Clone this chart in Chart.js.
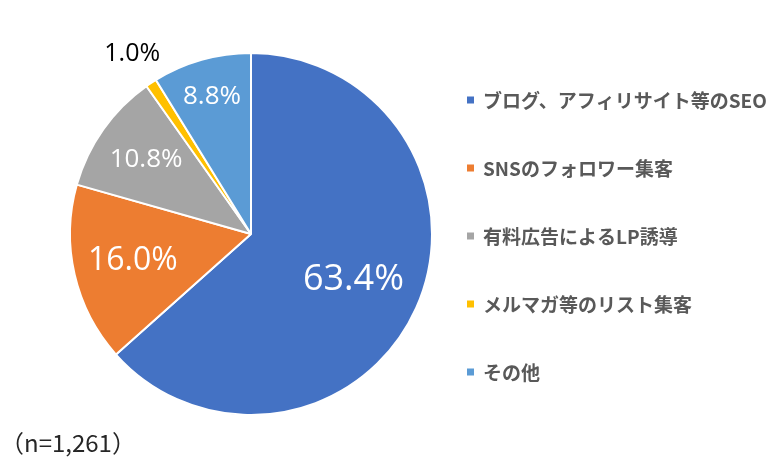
<!DOCTYPE html>
<html>
<head>
    <title>集客方法</title>
    <script src="https://cdn.jsdelivr.net/npm/chart.js"></script>
    <style>
        body { margin: 0; background: #fff; }
        #wrap { position: relative; width: 781px; height: 469px; }
    </style>
</head>
<body>
    <div id="wrap"><canvas id="myChart"></canvas></div>
    <script>
        const categories = ['ブログ、アフィリサイト等のSEO', 'SNSのフォロワー集客', '有料広告によるLP誘導', 'メルマガ等のリスト集客', 'その他'];
        const shares = [63.4, 16.0, 10.8, 1.0, 8.8];
        const colors = ['#4472C4', '#ED7D31', '#A5A5A5', '#FFC000', '#5B9BD5'];
        const sampleNote = '（n=1,261）';

        // label placement per slice (fraction of radius) and font size
        const labelRadius = [0.62, 0.67, 0.71, 1.19, 0.79];
        const labelSize = [36, 32, 26, 25, 26];

        const sliceLabels = {
            id: 'sliceLabels',
            afterDatasetsDraw(chart) {
                const ctx = chart.ctx;
                const meta = chart.getDatasetMeta(0);
                ctx.save();
                ctx.textAlign = 'center';
                ctx.textBaseline = 'middle';
                meta.data.forEach((arc, i) => {
                    const mid = (arc.startAngle + arc.endAngle) / 2;
                    const r = arc.outerRadius * labelRadius[i];
                    const x = arc.x + Math.cos(mid) * r;
                    const y = arc.y + Math.sin(mid) * r;
                    ctx.font = labelSize[i] + 'px "Open Sans", "Noto Sans", sans-serif';
                    ctx.fillStyle = labelRadius[i] > 1 ? '#000000' : '#ffffff';
                    ctx.fillText(shares[i].toFixed(1) + '%', x, y);
                });
                ctx.restore();
            }
        };

        // legend on the right, drawn by hand so the spacing matches
        const sideLegend = {
            id: 'sideLegend',
            afterDraw(chart) {
                const ctx = chart.ctx;
                ctx.save();
                ctx.textBaseline = 'middle';
                ctx.textAlign = 'left';
                ctx.font = 'bold 19px "Noto Sans CJK JP", sans-serif';
                categories.forEach((name, i) => {
                    const y = 100 + i * 68;
                    ctx.fillStyle = colors[i];
                    ctx.fillRect(467, y - 3.5, 7, 7);
                    ctx.fillStyle = '#595959';
                    ctx.fillText(name, 483, y + 1);
                });
                ctx.font = '24px "Noto Sans CJK JP", sans-serif';
                ctx.fillStyle = '#262626';
                ctx.fillText(sampleNote, 0, 443);
                ctx.restore();
            }
        };

        const ctx = document.getElementById('myChart').getContext('2d');
        new Chart(ctx, {
            type: 'pie',
            data: {
                labels: categories,
                datasets: [{
                    data: shares,
                    backgroundColor: colors,
                    borderColor: '#ffffff',
                    borderWidth: 2
                }]
            },
            options: {
                responsive: true,
                maintainAspectRatio: false,
                animation: false,
                layout: {
                    padding: { left: 69, right: 348, top: 52, bottom: 53 }
                },
                plugins: {
                    legend: { display: false },
                    tooltip: { enabled: false }
                }
            },
            plugins: [sliceLabels, sideLegend]
        });
    </script>
</body>
</html>
